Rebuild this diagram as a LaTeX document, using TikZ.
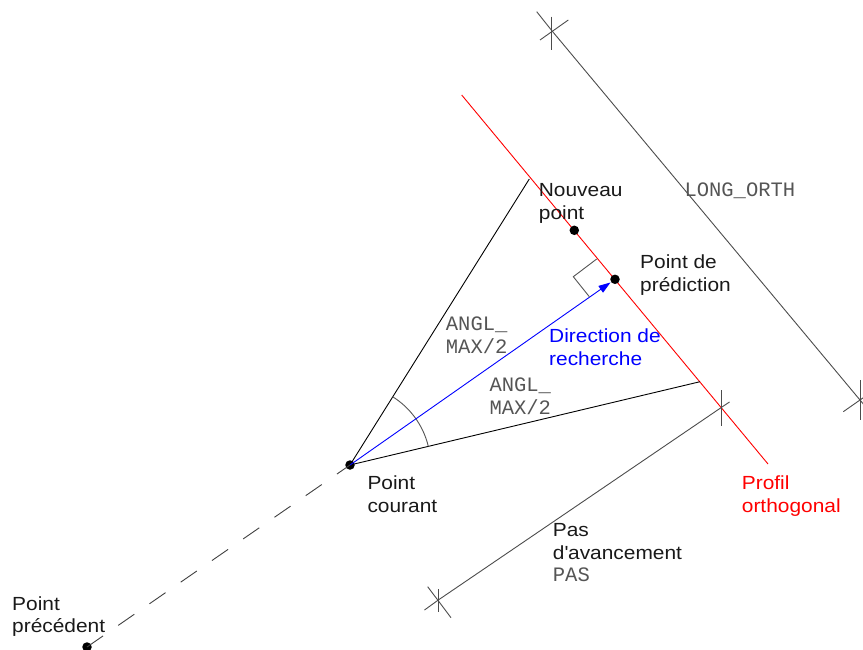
\documentclass[tikz,border=0pt]{standalone}
\usepackage{fontspec}
\usetikzlibrary{arrows.meta,calc}
\newfontfamily\lblfont{Liberation Sans}[FakeStretch=1.1]
\newfontfamily\monofont{Liberation Mono}
\definecolor{dimgray}{RGB}{85,85,85}
\definecolor{pureblue}{RGB}{0,0,255}
\definecolor{purered}{RGB}{255,0,0}
\tikzset{
  lbl/.style={anchor=base west, inner sep=0pt, align=left, text=black!90,
    font={\lblfont\fontsize{19}{22.7}\selectfont}},
  mono/.style={anchor=base west, inner sep=0pt, align=left, text=dimgray,
    font={\monofont\fontsize{20.5}{23}\selectfont}},
  dot/.style={circle, fill=black, inner sep=0pt, minimum size=9.5pt},
  thinline/.style={line width=0.9pt},
  dimline/.style={line width=0.9pt, draw=black!70},
}
\begin{document}
\begin{tikzpicture}[x=1pt, y=-1pt]
\useasboundingbox (0,0) rectangle (863,649);

% coordinates
\coordinate (r1) at (461.7,95);
\coordinate (r2) at (768,464);
\coordinate (u) at (529.3,179);
\coordinate (l) at (700,381.7);

% red profile line
\draw[thinline, purered] (r1) -- (r2);

% dots
\node[dot] (pc) at (350,465) {};
\node[dot] (pp) at (87,647) {};
\node[dot] (pred) at (615,279.3) {};
\node[dot] (np) at (574.3,230.3) {};

% dashed line
\draw[thinline, black!75, dash pattern=on 19.5pt off 18.5pt] (pp.center) -- (pc.center);

% rays
\draw[thinline, black] (pc.center) -- (u);
\draw[thinline, black] (pc.center) -- (l);

% angle arc
\draw[thinline, dimgray] ($(pc.center)+(-13.36:80.5)$) arc[start angle=-13.36, end angle=-57.9, radius=80.5];

% blue arrow
\draw[thinline, pureblue, -{Triangle[length=12pt, width=8pt]}, shorten >=5.5pt] (pc.center) -- (pred.center);

% right angle mark
\coordinate (ra1) at (596.7,259);
\coordinate (ra2) at (573.3,276.7);
\coordinate (ra3) at (589.3,296.7);
\draw[thinline, dimgray] (ra1) -- (ra2) -- (ra3);

% LONG_ORTH dimension
\coordinate (la0) at (536.7,11.7);
\coordinate (la) at (551.7,30.5);
\coordinate (lb) at (860,400);
\coordinate (lb0) at (875,418);
\draw[dimline] (la0) -- (la) -- (lb) -- (lb0);
\draw[dimline] (551.7,16.7) -- (551.7,50);
\draw[dimline] (540,40) -- (568.3,20);
\draw[dimline] (860,380) -- (860,420);
\draw[dimline] (843.3,411.7) -- (876.7,388.3);

% PAS dimension
\coordinate (pa0) at (424.5,610);
\coordinate (pa) at (438.3,600);
\coordinate (pb) at (721,407.7);
\coordinate (pb0) at (729.5,402);
\draw[dimline] (pa0) -- (pa) -- (pb) -- (pb0);
\draw[dimline] (438.3,589) -- (438.3,612);
\draw[dimline] (427.7,586.7) -- (451,617.7);
\draw[dimline] (721,390) -- (721,426);

% labels (base anchor = baseline of last line)
\node[lbl] (tnp) at (538.7,219.4) {Nouveau\\point};
\node[lbl] (tpred) at (640,291.2) {Point de\\prédiction};
\node[lbl, text=pureblue] (tdir) at (549,365.2) {Direction de\\recherche};
\node[lbl] (tpc) at (367.3,512.2) {Point\\courant};
\node[lbl] (tpp) at (12,632.7) {Point\\précédent};
\node[lbl] (tpas) at (552.7,559.6) {Pas\\d\textquotesingle avancement};
\node[lbl, text=purered] (tprof) at (741.7,512.2) {Profil\\orthogonal};
\node[mono] (tpasm) at (552.7,581.7) {PAS};
\node[mono] (tang1) at (445.7,353.7) {ANGL\_\\MAX/2};
\node[mono] (tang2) at (489.3,414.7) {ANGL\_\\MAX/2};
\node[mono] (tlong) at (684.3,196) {LONG\_ORTH};
\end{tikzpicture}
\end{document}
